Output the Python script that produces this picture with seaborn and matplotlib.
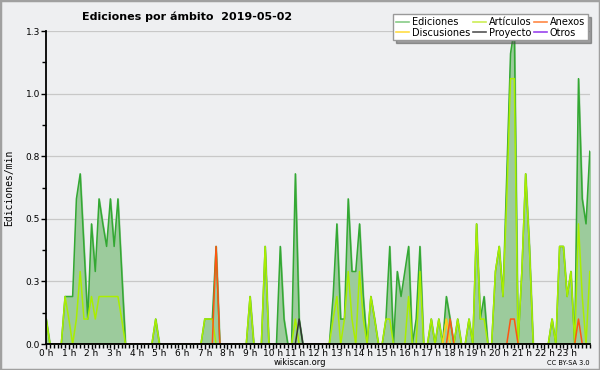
import numpy as np
import pandas as pd
import matplotlib
matplotlib.use('Agg')
import matplotlib.pyplot as plt
import seaborn as sns
from matplotlib.ticker import MultipleLocator, FuncFormatter
from matplotlib.lines import Line2D

# edits per minute, one value every 10 minutes (0:00 .. 24:00)
ediciones = [
    0.10, 0, 0, 0, 0, 0.19, 0.19, 0.19, 0.58, 0.68, 0.39, 0.10,
    0.48, 0.29, 0.58, 0.48, 0.39, 0.58, 0.39, 0.58, 0.29, 0, 0, 0,
    0, 0, 0, 0, 0, 0.10, 0, 0, 0, 0, 0, 0,
    0, 0, 0, 0, 0, 0, 0.10, 0.10, 0.10, 0.39, 0, 0,
    0, 0, 0, 0, 0, 0, 0.19, 0, 0, 0, 0.39, 0,
    0, 0, 0.39, 0.10, 0, 0, 0.68, 0.10, 0, 0, 0, 0,
    0, 0, 0, 0, 0.19, 0.48, 0.10, 0.10, 0.58, 0.29, 0.29, 0.48,
    0.19, 0, 0.19, 0.10, 0, 0, 0.10, 0.39, 0, 0.29, 0.19, 0.29,
    0.39, 0, 0.10, 0.39, 0, 0, 0.10, 0, 0.10, 0, 0.19, 0.10,
    0, 0.10, 0, 0, 0.10, 0, 0.48, 0.10, 0.19, 0, 0, 0.29,
    0.39, 0.19, 0.68, 1.16, 1.26, 0, 0.29, 0.68, 0.39, 0, 0, 0,
    0, 0, 0.10, 0, 0.39, 0.39, 0.19, 0.29, 0, 1.06, 0.58, 0.48,
    0.77]
articulos = [
    0.10, 0, 0, 0, 0, 0.19, 0.10, 0, 0.10, 0.29, 0.10, 0.10,
    0.19, 0.10, 0.19, 0.19, 0.19, 0.19, 0.19, 0.19, 0.10, 0, 0, 0,
    0, 0, 0, 0, 0, 0.10, 0, 0, 0, 0, 0, 0,
    0, 0, 0, 0, 0, 0, 0.10, 0.10, 0.10, 0, 0, 0,
    0, 0, 0, 0, 0, 0, 0.19, 0, 0, 0, 0.39, 0,
    0, 0, 0, 0, 0, 0, 0.10, 0, 0, 0, 0, 0,
    0, 0, 0, 0, 0.10, 0.19, 0, 0.10, 0.29, 0.10, 0, 0.29,
    0.10, 0, 0.19, 0.10, 0, 0, 0.10, 0.10, 0, 0, 0, 0,
    0.19, 0, 0, 0.29, 0, 0, 0.10, 0, 0.10, 0, 0.10, 0,
    0, 0.10, 0, 0, 0.10, 0, 0.48, 0.10, 0.10, 0, 0, 0.29,
    0.39, 0.19, 0.58, 1.06, 1.06, 0, 0.29, 0.68, 0.39, 0, 0, 0,
    0, 0, 0.10, 0, 0.39, 0.39, 0.19, 0.29, 0, 0.48, 0.19, 0,
    0.29]
anexos = [
    0, 0, 0, 0, 0, 0, 0, 0, 0, 0, 0, 0,
    0, 0, 0, 0, 0, 0, 0, 0, 0, 0, 0, 0,
    0, 0, 0, 0, 0, 0, 0, 0, 0, 0, 0, 0,
    0, 0, 0, 0, 0, 0, 0, 0, 0, 0.39, 0, 0,
    0, 0, 0, 0, 0, 0, 0, 0, 0, 0, 0, 0,
    0, 0, 0, 0, 0, 0, 0, 0, 0, 0, 0, 0,
    0, 0, 0, 0, 0, 0, 0, 0, 0, 0, 0, 0,
    0, 0, 0, 0, 0, 0, 0, 0, 0, 0, 0, 0,
    0, 0, 0, 0, 0, 0, 0, 0, 0, 0, 0, 0.10,
    0, 0, 0, 0, 0, 0, 0, 0, 0, 0, 0, 0,
    0, 0, 0, 0.10, 0.10, 0, 0, 0, 0, 0, 0, 0,
    0, 0, 0, 0, 0, 0, 0, 0, 0, 0.10, 0, 0,
    0]
discusiones = [
    0, 0, 0, 0, 0, 0, 0, 0, 0, 0, 0, 0,
    0, 0, 0, 0, 0, 0, 0, 0, 0, 0, 0, 0,
    0, 0, 0, 0, 0, 0, 0, 0, 0, 0, 0, 0,
    0, 0, 0, 0, 0, 0, 0, 0, 0, 0, 0, 0,
    0, 0, 0, 0, 0, 0, 0, 0, 0, 0, 0, 0,
    0, 0, 0, 0, 0, 0, 0, 0, 0, 0, 0, 0,
    0, 0, 0, 0, 0, 0, 0, 0, 0, 0, 0, 0,
    0, 0, 0, 0, 0, 0, 0, 0, 0, 0, 0, 0,
    0, 0, 0, 0, 0, 0, 0, 0, 0, 0, 0.10, 0,
    0, 0, 0, 0, 0, 0, 0, 0, 0, 0, 0, 0,
    0, 0, 0, 0, 0, 0, 0, 0, 0, 0, 0, 0,
    0, 0, 0, 0, 0, 0, 0, 0, 0, 0, 0, 0,
    0]
proyecto = [
    0, 0, 0, 0, 0, 0, 0, 0, 0, 0, 0, 0,
    0, 0, 0, 0, 0, 0, 0, 0, 0, 0, 0, 0,
    0, 0, 0, 0, 0, 0, 0, 0, 0, 0, 0, 0,
    0, 0, 0, 0, 0, 0, 0, 0, 0, 0, 0, 0,
    0, 0, 0, 0, 0, 0, 0, 0, 0, 0, 0, 0,
    0, 0, 0, 0, 0, 0, 0, 0.10, 0, 0, 0, 0,
    0, 0, 0, 0, 0, 0, 0, 0, 0, 0, 0, 0,
    0, 0, 0, 0, 0, 0, 0, 0, 0, 0, 0, 0,
    0, 0, 0, 0, 0, 0, 0, 0, 0, 0, 0, 0,
    0, 0, 0, 0, 0, 0, 0, 0, 0, 0, 0, 0,
    0, 0, 0, 0, 0, 0, 0, 0, 0, 0, 0, 0,
    0, 0, 0, 0, 0, 0, 0, 0, 0, 0, 0, 0,
    0]
hour_labels = ['%d h' % h for h in range(24)]

hours = np.arange(len(ediciones)) / 6
df = pd.DataFrame({'hora': hours, 'Ediciones': ediciones, 'Artículos': articulos,
                   'Anexos': anexos, 'Discusiones': discusiones, 'Proyecto': proyecto})

bg = '#eeeff1'
fig = plt.figure(figsize=(6, 3.7), dpi=100, facecolor=bg)
ax = fig.add_axes([0.077, 0.07, 0.906, 0.846])
ax.set_facecolor(bg)

ax.fill_between(df['hora'], df['Ediciones'], color='#9ccb9c', zorder=1)
sns.lineplot(data=df, x='hora', y='Ediciones', color='#33a833', linewidth=1.1, ax=ax, zorder=2)
sns.lineplot(data=df, x='hora', y='Artículos', color='#aaee00', linewidth=1.1, ax=ax, zorder=3)
sns.lineplot(data=df, x='hora', y='Discusiones', color='#ffcc22', linewidth=1.1, ax=ax, zorder=4)
sns.lineplot(data=df, x='hora', y='Anexos', color='#ff5511', linewidth=1.1, ax=ax, zorder=4)
sns.lineplot(data=df, x='hora', y='Proyecto', color='#333333', linewidth=1.1, ax=ax, zorder=4)

ax.set_xlim(0, 24)
ax.set_ylim(0, 1.25)
ax.grid(axis='y', color='#c8c8c8', linewidth=0.9)
ax.set_axisbelow(True)
for s in ['top', 'right']:
    ax.spines[s].set_visible(False)
for s in ['left', 'bottom']:
    ax.spines[s].set_linewidth(1.3)
    ax.spines[s].set_zorder(10)

ax.yaxis.set_major_locator(MultipleLocator(0.25))
ax.yaxis.set_minor_locator(MultipleLocator(0.125))
ax.yaxis.set_major_formatter(FuncFormatter(lambda v, p: '%.1f' % (v + 1e-9)))
ax.set_xticks(range(24))
ax.set_xticklabels(hour_labels)
ax.xaxis.set_minor_locator(MultipleLocator(1 / 6))
ax.tick_params(axis='both', which='major', labelsize=6.5, length=3.5, width=1, colors='black')
ax.tick_params(axis='x', which='major', pad=0.3)
ax.tick_params(axis='y', which='major', pad=1)
ax.tick_params(axis='both', which='minor', length=3, width=1)
ax.set_xlabel('')
ax.set_ylabel('Ediciones/min', family='DejaVu Sans Mono', fontsize=7, labelpad=8)

fig.text(0.312, 0.955, 'Ediciones por ámbito  2019-05-02', ha='center', va='center',
         fontsize=8, fontweight='bold')
fig.text(0.5, 0.021, 'wikiscan.org', ha='center', va='center', fontsize=6)
fig.text(0.983, 0.02, 'CC BY-SA 3.0', ha='right', va='center', fontsize=4.8)

handles = [Line2D([], [], color='#88cc88', lw=1.2), Line2D([], [], color='#ffdd44', lw=1.2),
           Line2D([], [], color='#ccee55', lw=1.2), Line2D([], [], color='#555555', lw=1.2),
           Line2D([], [], color='#ff8844', lw=1.2), Line2D([], [], color='#9944ee', lw=1.2)]
labels = ['Ediciones', 'Discusiones', 'Artículos', 'Proyecto', 'Anexos', 'Otros']
leg = fig.legend(handles, labels, ncol=3, loc='upper right', bbox_to_anchor=(0.988, 0.975),
                 fontsize=7, frameon=True, fancybox=False, shadow=True, handlelength=1.3,
                 handletextpad=0.3, columnspacing=0.3, labelspacing=0.05, borderpad=0.3)
leg.get_frame().set_edgecolor('#999999')
leg.get_frame().set_facecolor('white')

# thin grey border around the whole picture
fig.add_artist(plt.Rectangle((0, 0), 1, 1, transform=fig.transFigure, fill=False,
                             edgecolor='#a0a0a0', linewidth=2.5))

fig.savefig('out.png', dpi=100, facecolor=bg)
